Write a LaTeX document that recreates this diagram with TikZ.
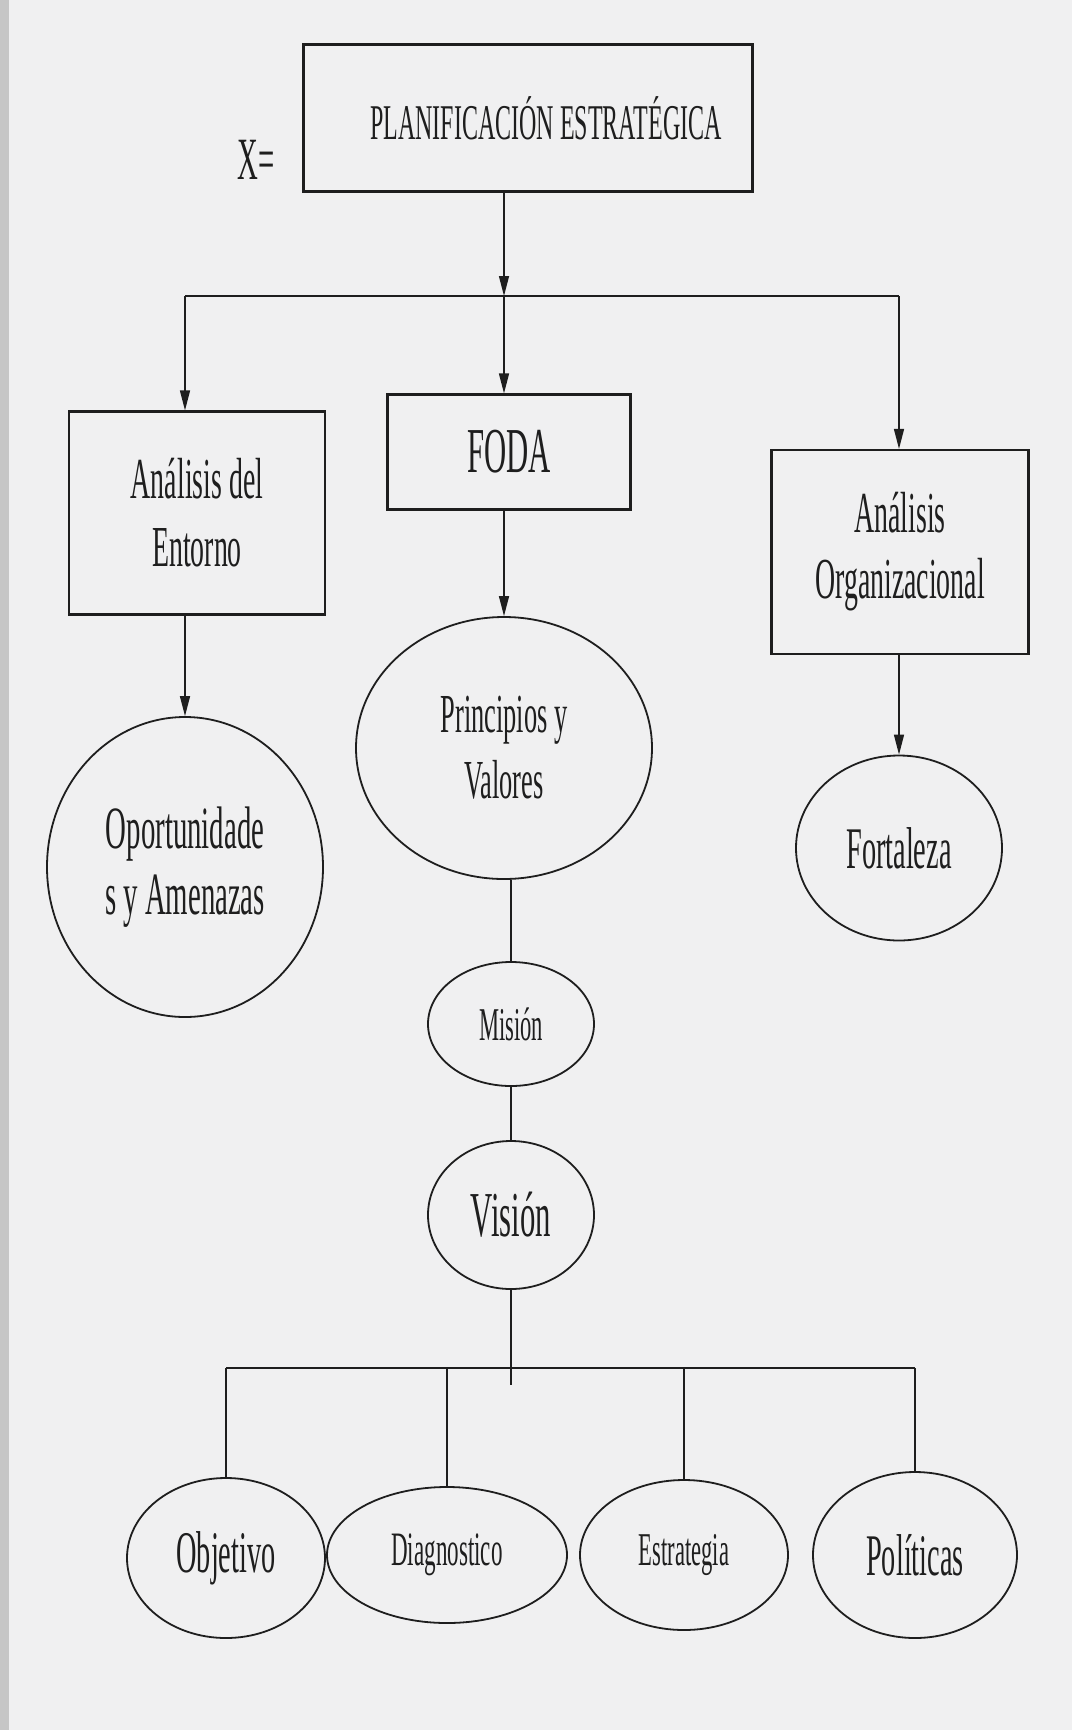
\documentclass[tikz,border=0pt]{standalone}
\usepackage{fontspec}
\setmainfont{Liberation Serif}
\newfontfamily\cond[FakeStretch=0.48]{Liberation Serif}
\usetikzlibrary{arrows.meta,shapes.geometric}
\definecolor{paper}{RGB}{240,240,241}
\definecolor{ink}{RGB}{30,30,30}
\newcommand{\fs}[2]{\fontsize{#1}{#2}\selectfont\cond}
\begin{document}
\begin{tikzpicture}[x=1pt,y=-1pt,
  box/.style={draw=ink, line width=2.2pt, rectangle, inner sep=0pt, align=center, text=ink},
  ell/.style={draw=ink, line width=1.8pt, ellipse, inner sep=0pt, align=center, text=ink},
  conn/.style={draw=ink, line width=1.4pt},
  arr/.style={conn, -{Triangle[length=20pt,width=10pt]}},
  hline/.style={draw=ink, line width=2.4pt}]
\fill[paper] (0,0) rectangle (1072,1730);
\fill[gray!45] (0,0) rectangle (9,1730);
\useasboundingbox (0,0) rectangle (1072,1730);

% top
\node[box, minimum width=449pt, minimum height=147pt, font=\fs{50}{56}] (top) at (528,118) {\hspace*{36pt}PLANIFICACIÓN ESTRATÉGICA};
\node[text=ink, font=\fs{60}{66}, inner sep=0pt] (xeq) at (256,160) {X=};

\coordinate (jL) at (185,296);
\coordinate (jM) at (504,296);
\coordinate (jR) at (899,296);

% second row boxes
\node[box, minimum width=256pt, minimum height=203pt, font=\fs{58}{68}] (lbox) at (197,513) {Análisis del\\Entorno};
\node[box, minimum width=243pt, minimum height=115pt, font=\fs{64}{70}] (foda) at (509,452) {FODA};
\node[box, minimum width=257pt, minimum height=204pt, font=\fs{58}{66}] (rbox) at (900,552) {Análisis\\Organizacional};

% ellipses
\node[ell, minimum width=276pt, minimum height=300pt, font=\fs{60}{66}] (opp) at (185,867) {Oportunidade\\s y Amenazas};
\node[ell, minimum width=296pt, minimum height=262pt, font=\fs{55}{66}] (princ) at (504,748) {Principios y\\Valores};
\node[ell, minimum width=206pt, minimum height=185pt, font=\fs{59}{64}] (fort) at (899,848) {Fortaleza};
\node[ell, minimum width=166pt, minimum height=124pt, font=\fs{47}{54}] (mis) at (511,1024) {Misión};
\node[ell, minimum width=166pt, minimum height=148pt, font=\fs{64}{70}] (vis) at (511,1215) {Visión};

% bottom
\coordinate (b1) at (226,1368);
\coordinate (b2) at (447,1368);
\coordinate (b3) at (684,1368);
\coordinate (b4) at (915,1368);
\coordinate (vb) at (511,1385);
\node[ell, minimum width=198pt, minimum height=160pt, font=\fs{59}{64}] (obj) at (226,1558) {Objetivo};
\node[ell, minimum width=240pt, minimum height=136pt, font=\fs{48}{54}] (diag) at (447,1555) {Diagnostico};
\node[ell, minimum width=208pt, minimum height=150pt, font=\fs{47}{54}] (estr) at (684,1555) {Estrategia};
\node[ell, minimum width=204pt, minimum height=166pt, font=\fs{59}{64}] (pol) at (915,1555) {Políticas};

% connectors
\draw[arr] (jM |- top.south) -- (jM);
\draw[hline] (jL) -- (jR);
\draw[arr] (jL) -- (jL |- lbox.north);
\draw[arr] (jM) -- (jM |- foda.north);
\draw[arr] (jR) -- (jR |- rbox.north);
\draw[arr] (jL |- lbox.south) -- (opp.north);
\draw[arr] (jM |- foda.south) -- (princ.north);
\draw[arr] (jR |- rbox.south) -- (fort.north);
\draw[conn] (princ.south -| mis.north) -- (mis.north);
\draw[conn] (mis.south) -- (vis.north);
\draw[conn] (vis.south) -- (vb);
\draw[hline] (b1) -- (b4);
\draw[conn] (b1) -- (obj.north);
\draw[conn] (b2) -- (diag.north);
\draw[conn] (b3) -- (estr.north);
\draw[conn] (b4) -- (pol.north);
\end{tikzpicture}
\end{document}
